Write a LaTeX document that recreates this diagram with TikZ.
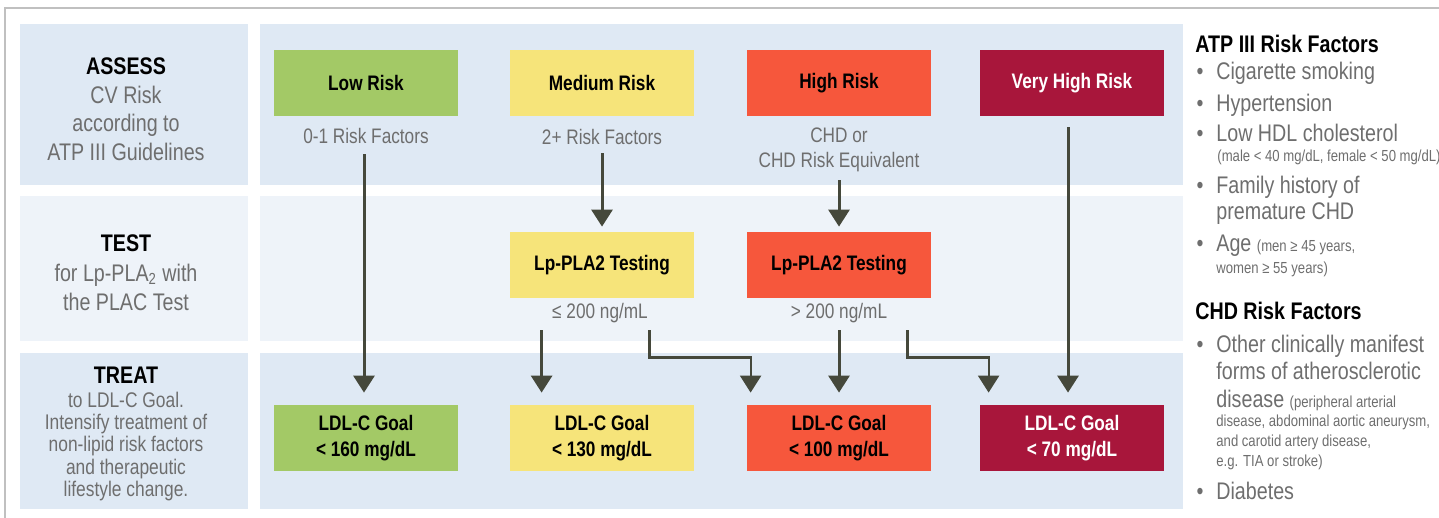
\documentclass[tikz,border=0pt]{standalone}
\usepackage{fontspec}
\setmainfont{Liberation Sans}[FakeStretch=0.82]
\usetikzlibrary{arrows.meta}
\definecolor{lowgreen}{HTML}{A3C966}
\definecolor{medyellow}{HTML}{F6E47A}
\definecolor{highred}{HTML}{F6573C}
\definecolor{veryhigh}{HTML}{A8163B}
\definecolor{panelblue}{HTML}{DFE9F4}
\definecolor{panellight}{HTML}{EEF3F9}
\definecolor{textgray}{HTML}{6E6E6E}
\definecolor{arrowgray}{HTML}{45483B}
\definecolor{framegray}{HTML}{C0C0C0}
\newcommand{\panel}[5] {
    \fill[#1] (#2,#3) rectangle (#4,#5);
}
\newcommand{\factor}[3] {
    \node[dotmark] (#1dot) at (1200,#2) {•};
    \node[factext] (#1) at (1216,#2) {#3};
}
\tikzset{
    x=0.5pt,
    y=-0.5pt,
    box/.style={minimum width=92pt, minimum height=33pt, inner sep=0pt, align=center,
        font=\fontsize{10.5}{13}\selectfont\bfseries},
    sub/.style={text=textgray, align=center, inner sep=0pt, font=\fontsize{10.5}{12.5}\selectfont},
    stage/.style={anchor=north, align=center, inner sep=0pt, text=textgray,
        font=\fontsize{12}{14.3}\selectfont},
    flow/.style={draw=arrowgray, line width=1.5pt, -{Triangle[width=10.5pt,length=8.5pt]}},
    dotmark/.style={anchor=base, inner sep=0pt, text=textgray, font=\fontsize{12}{12}\selectfont},
    factext/.style={anchor=base west, inner sep=0pt, text=textgray, font=\fontsize{12}{12}\selectfont},
    factsmall/.style={factext, font=\fontsize{8}{9}\selectfont},
    factitle/.style={anchor=base west, inner sep=0pt, font=\fontsize{12}{12}\selectfont\bfseries},
}

\begin{document}
\begin{tikzpicture}
    \useasboundingbox (0,0) rectangle (1439,518);
    \draw[framegray, line width=1pt] (5,518) -- (5,8) -- (1439,8);
    \panel{panelblue}{20}{24}{248}{185}
    \panel{panellight}{20}{196}{248}{341}
    \panel{panelblue}{20}{353}{248}{509}
    \panel{panelblue}{260}{24}{1183}{185}
    \panel{panellight}{260}{196}{1183}{341}
    \panel{panelblue}{260}{353}{1183}{509}

    \node[stage] (assess) at (126,57.5) {{\color{black}\bfseries ASSESS}\\CV Risk\\according to\\ATP III Guidelines};
    \node[stage, font=\fontsize{12}{14.7}\selectfont] (test) at (126,234.5)
        {{\color{black}\bfseries TEST}\\for Lp-PLA\textsubscript{2} with\\the PLAC Test};
    \node[stage, font=\fontsize{10.6}{11.1}\selectfont] (treat) at (126,366.5)
        {{\fontsize{12}{12}\selectfont\color{black}\bfseries TREAT}\\[0.9pt]to LDL-C Goal.\\Intensify treatment of\\non-lipid risk factors\\and therapeutic\\lifestyle change.};

    \node[box, fill=lowgreen] (lowrisk) at (366,83) {Low Risk};
    \node[box, fill=medyellow] (medrisk) at (602,83) {Medium Risk};
    \node[box, fill=highred] (highrisk) at (839,83) {High Risk};
    \node[box, fill=veryhigh, text=white] (vhrisk) at (1072,83) {Very High Risk};

    \node[sub] (lowsub) at (366,136) {0-1 Risk Factors};
    \node[sub] (medsub) at (602,137) {2+ Risk Factors};
    \node[sub] (highsub) at (839,150) {CHD or\\CHD Risk Equivalent};

    \node[box, fill=medyellow] (medtest) at (602,265) {Lp-PLA2 Testing};
    \node[box, fill=highred] (hightest) at (839,265) {Lp-PLA2 Testing};
    \node[sub] (lesub) at (600,313) {≤ 200 ng/mL};
    \node[sub] (gtsub) at (839,313) {> 200 ng/mL};

    \node[box, fill=lowgreen] (lowgoal) at (366,438) {LDL-C Goal\\< 160 mg/dL};
    \node[box, fill=medyellow] (medgoal) at (602,438) {LDL-C Goal\\< 130 mg/dL};
    \node[box, fill=highred] (highgoal) at (839,438) {LDL-C Goal\\< 100 mg/dL};
    \node[box, fill=veryhigh, text=white] (vhgoal) at (1072,438) {LDL-C Goal\\< 70 mg/dL};

    \draw[flow, shorten <=19pt, shorten >=6pt] ([xshift=-1pt]lowrisk.south) -- ([xshift=-1pt]lowgoal.north);
    \draw[flow, shorten <=18.5pt, shorten >=2.5pt] (medrisk) -- (medtest);
    \draw[flow, shorten <=32pt, shorten >=2.5pt] (highrisk) -- (hightest);
    \draw[flow, shorten <=5.5pt, shorten >=6pt] ([xshift=-2pt]vhrisk.south) -- ([xshift=-2pt]vhgoal.north);
    \draw[flow, shorten <=16pt, shorten >=6pt] ([xshift=16pt]medtest.south west) -- ([xshift=16pt]medgoal.north west);
    \draw[flow, shorten <=16pt, shorten >=6pt] (hightest) -- (highgoal);
    \draw[flow, line width=1.1pt] ([xshift=-22.5pt,yshift=-16pt]medtest.south east) -- ++(0,27)
        -| ([xshift=2pt,yshift=6pt]highgoal.north west);
    \draw[flow, line width=1.1pt] ([xshift=-12pt,yshift=-16pt]hightest.south east) -- ++(0,27)
        -| ([xshift=4.5pt,yshift=6pt]vhgoal.north west);

    \node[factitle] (atptitle) at (1195,53) {ATP III Risk Factors};
    \factor{cig}{80}{Cigarette smoking}
    \factor{hyp}{112}{Hypertension}
    \factor{hdl}{142}{Low HDL cholesterol}
    \node[factsmall] (hdlnote) at (1217,162) {(male < 40 mg/dL, female < 50 mg/dL)};
    \factor{fam}{194}{Family history of}
    \node[factext] (famnext) at (1216,220) {premature CHD};
    \factor{age}{251}{Age {\fontsize{8}{9}\selectfont (men ≥ 45 years,}}
    \node[factsmall] (agenote) at (1216,273) {women ≥ 55 years)};

    \node[factitle] (chdtitle) at (1195,319) {CHD Risk Factors};
    \factor{other}{352}{Other clinically manifest}
    \node[factext] (otherb) at (1216,379) {forms of atherosclerotic};
    \node[factext] (otherc) at (1216,407) {disease {\fontsize{8}{9}\selectfont (peripheral arterial}};
    \node[factsmall] (otherd) at (1216,426) {disease, abdominal aortic aneurysm,};
    \node[factsmall] (othere) at (1216,446) {and carotid artery disease,};
    \node[factsmall] (otherf) at (1216,466) {e.g. TIA or stroke)};
    \factor{diab}{499}{Diabetes}
\end{tikzpicture}
\end{document}
